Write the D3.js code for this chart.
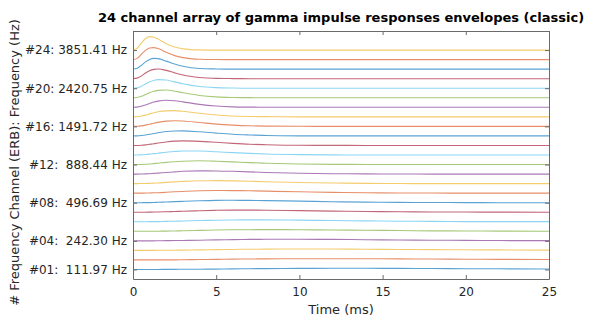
<!DOCTYPE html>
<html>
<head>
<meta charset="utf-8">
<script src="https://cdn.jsdelivr.net/npm/d3@7"></script>
<style>
  html, body { margin: 0; padding: 0; background: #fff; }
  svg { display: block; font-family: "DejaVu Sans", sans-serif; }
</style>
</head>
<body>
<svg id="chart" width="600" height="323"></svg>
<script>
// ---- data ----
const title = "24 channel array of gamma impulse responses envelopes (classic)";
const xLabel = "Time (ms)";
const yLabel = "# Frequency Channel (ERB): Frequency (Hz)";
const timeMs = [0, 0.25, 0.5, 0.75, 1, 1.25, 1.5, 2, 2.5, 3, 4, 5, 6, 7, 8, 10, 12, 14, 16, 18, 20, 22, 25];
// envelope values per channel (channel 1 .. 24), in channel-spacing units above each baseline
const ch01 = [0,0,0,0,0,0,0,.01,.01,.02,.03,.04,.06,.08,.09,.11,.12,.12,.11,.10,.08,.07,.05];
const ch02 = [0,0,0,0,0,0,0,.01,.01,.02,.04,.06,.08,.10,.11,.13,.13,.12,.11,.09,.07,.06,.04];
const ch03 = [0,0,0,0,0,0,.01,.01,.02,.03,.05,.08,.10,.12,.13,.15,.14,.12,.10,.08,.06,.05,.03];
const ch04 = [0,0,0,0,0,0,.01,.02,.03,.04,.07,.10,.13,.15,.16,.16,.15,.12,.09,.07,.05,.03,.02];
const ch05 = [0,0,0,0,0,0,.01,.02,.04,.06,.10,.13,.16,.17,.18,.17,.14,.11,.08,.05,.04,.02,.01];
const ch06 = [0,0,0,0,.01,.01,.02,.04,.06,.08,.13,.16,.19,.20,.20,.17,.13,.09,.06,.04,.02,.01,.01];
const ch07 = [0,0,0,0,.01,.02,.03,.05,.08,.11,.16,.20,.22,.22,.21,.17,.12,.08,.05,.03,.02,.01,0];
const ch08 = [0,0,0,.01,.01,.02,.04,.07,.11,.14,.20,.24,.25,.24,.22,.16,.10,.06,.03,.02,.01,0,0];
const ch09 = [0,0,0,.01,.02,.04,.05,.09,.14,.18,.25,.28,.27,.25,.21,.14,.08,.04,.02,.01,0,0,0];
const ch10 = [0,0,.01,.01,.03,.05,.07,.13,.18,.23,.30,.31,.29,.25,.20,.11,.06,.03,.01,0,0,0,0];
const ch11 = [0,0,.01,.02,.04,.07,.10,.17,.23,.29,.34,.33,.29,.23,.17,.08,.04,.02,.01,0,0,0,0];
const ch12 = [0,0,.01,.03,.06,.10,.14,.23,.30,.35,.39,.35,.28,.20,.14,.06,.02,.01,0,0,0,0,0];
const ch13 = [0,0,.02,.05,.09,.14,.19,.29,.37,.42,.42,.34,.25,.17,.11,.04,.01,0,0,0,0,0,0];
const ch14 = [0,0,.02,.06,.12,.18,.25,.37,.45,.48,.43,.33,.22,.13,.08,.02,.01,0,0,0,0,0,0];
const ch15 = [0,.01,.04,.09,.17,.25,.33,.46,.52,.53,.43,.29,.17,.10,.05,.01,0,0,0,0,0,0,0];
const ch16 = [0,.01,.05,.13,.23,.33,.42,.55,.59,.57,.41,.24,.13,.06,.03,.01,0,0,0,0,0,0,0];
const ch17 = [0,.01,.08,.18,.31,.43,.53,.63,.65,.58,.37,.19,.09,.04,.02,0,0,0,0,0,0,0,0];
const ch18 = [0,.02,.11,.25,.40,.55,.65,.74,.69,.57,.31,.14,.05,.02,.01,0,0,0,0,0,0,0,0];
const ch19 = [0,.03,.15,.34,.53,.68,.78,.81,.69,.53,.24,.09,.03,.01,0,0,0,0,0,0,0,0,0];
const ch20 = [0,.04,.21,.45,.67,.82,.90,.86,.67,.47,.18,.06,.02,0,0,0,0,0,0,0,0,0,0];
const ch21 = [0,.06,.29,.59,.84,.98,1.02,.87,.61,.38,.12,.03,.01,0,0,0,0,0,0,0,0,0,0];
const ch22 = [0,.09,.40,.76,1.02,1.13,1.10,.84,.53,.30,.07,.02,0,0,0,0,0,0,0,0,0,0,0];
const ch23 = [0,.13,.55,.97,1.22,1.26,1.16,.77,.42,.21,.04,.01,0,0,0,0,0,0,0,0,0,0,0];
const ch24 = [0,.19,.72,1.21,1.41,1.35,1.15,.67,.32,.13,.02,0,0,0,0,0,0,0,0,0,0,0,0];
const channels = [ch01,ch02,ch03,ch04,ch05,ch06,ch07,ch08,ch09,ch10,ch11,ch12,
                  ch13,ch14,ch15,ch16,ch17,ch18,ch19,ch20,ch21,ch22,ch23,ch24];
const yTickValues = [1, 4, 8, 12, 16, 20, 24];
const yTickLabels = ["#01:  111.97 Hz", "#04:  242.30 Hz", "#08:  496.69 Hz", "#12:  888.44 Hz",
                     "#16: 1491.72 Hz", "#20: 2420.75 Hz", "#24: 3851.41 Hz"];
const xTickValues = [0, 5, 10, 15, 20, 25];
const palette = ["#0072BD", "#D95319", "#EDB120", "#7E2F8E", "#77AC30", "#4DBEEE", "#A2142F"];

// ---- layout ----
const pL = 133, pR = 549, pT = 31, pB = 279;
const svg = d3.select("#chart");
const x = d3.scaleLinear().domain([0, 25]).range([pL, pR]);
const y = d3.scaleLinear().domain([0, 26]).range([pB, pT]);
const axisColor = "#6a6a6a";
const textColor = "#262626";

// lines
const line = d3.line()
  .x(d => x(d.t))
  .y(d => y(d.v))
  .curve(d3.curveMonotoneX);

channels.forEach((vals, i) => {
  const k = i + 1;
  const pts = timeMs.map((t, j) => ({t: t, v: k + vals[j]}));
  svg.append("path")
    .attr("d", line(pts))
    .attr("fill", "none")
    .attr("stroke", palette[i % palette.length])
    .attr("stroke-opacity", 0.65)
    .attr("stroke-width", 1.1);
});

// axes (MATLAB-style inward ticks, box)
const tickLen = 4;
const gBottom = svg.append("g").attr("transform", `translate(0,${pB})`)
  .call(d3.axisBottom(x).tickValues(xTickValues).tickSizeInner(-tickLen).tickSizeOuter(0).tickPadding(8).tickFormat(d3.format("d")));
const gTop = svg.append("g").attr("transform", `translate(0,${pT})`)
  .call(d3.axisTop(x).tickValues(xTickValues).tickSizeInner(-tickLen).tickSizeOuter(0).tickFormat(""));
const gLeft = svg.append("g").attr("transform", `translate(${pL},0)`)
  .call(d3.axisLeft(y).tickValues(yTickValues).tickSizeInner(-tickLen).tickSizeOuter(0).tickPadding(6)
    .tickFormat((d, i) => yTickLabels[i]));
const gRight = svg.append("g").attr("transform", `translate(${pR},0)`)
  .call(d3.axisRight(y).tickValues(yTickValues).tickSizeInner(-tickLen).tickSizeOuter(0).tickFormat(""));

[gBottom, gTop, gLeft, gRight].forEach(g => {
  g.select(".domain").attr("stroke", axisColor);
  g.selectAll(".tick line").attr("stroke", axisColor);
  g.selectAll("text").attr("fill", textColor).style("font-size", "12px")
    .style("font-family", "'DejaVu Sans', sans-serif").style("white-space", "pre");
});
gLeft.selectAll("text").attr("xml:space", "preserve");

// title
svg.append("text")
  .attr("x", (pL + pR) / 2).attr("y", 22)
  .attr("text-anchor", "middle")
  .attr("fill", "#000")
  .style("font-size", "13px").style("font-weight", "bold")
  .text(title);

// x label
svg.append("text")
  .attr("x", (pL + pR) / 2).attr("y", 314)
  .attr("text-anchor", "middle")
  .attr("fill", textColor)
  .style("font-size", "13px")
  .text(xLabel);

// y label
svg.append("text")
  .attr("transform", `translate(19,${(20 + 305) / 2}) rotate(-90)`)
  .attr("text-anchor", "middle")
  .attr("fill", textColor)
  .style("font-size", "13px")
  .text(yLabel);
</script>
</body>
</html>
